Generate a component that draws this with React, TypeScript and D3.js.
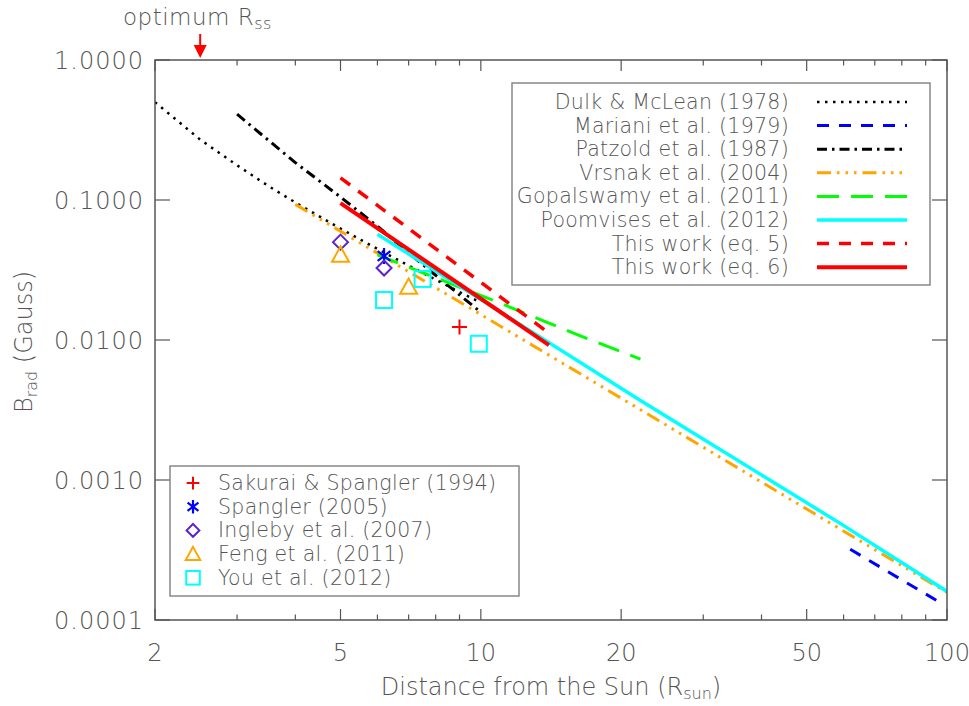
import * as d3 from 'd3';

// distances in R_sun, field in Gauss
const dulkR = [2, 2.5, 3, 3.5, 4, 5, 6, 7, 8, 9, 10];
const dulkB = [0.5, 0.27, 0.177, 0.126, 0.096, 0.0625, 0.0447, 0.034, 0.027, 0.022, 0.0185];
const marianiR = [62, 96];
const marianiB = [0.00032, 0.000135];
const patzoldR = [3, 4, 5, 6, 7, 8, 9, 10];
const patzoldB = [0.41, 0.185, 0.105, 0.065, 0.042, 0.029, 0.021, 0.0158];
const vrsnakR = [4, 10, 20, 50, 100];
const vrsnakB = [0.093, 0.0152, 0.00384, 0.00062, 0.000157];
const gopalR = [6, 10.6, 16, 22];
const gopalB = [0.0405, 0.0193, 0.011, 0.0073];
const poomR = [6, 22, 59, 100];
const poomB = [0.057, 0.0037, 0.00049, 0.00016];
const eq5R = [5, 14];
const eq5B = [0.144, 0.0112];
const eq6R = [5, 14];
const eq6B = [0.095, 0.0092];

const sakuraiPts = [[9, 0.0124]];
const spanglerPts = [[6.2, 0.0398]];
const inglebyPts = [[5, 0.05], [6.2, 0.0327]];
const fengPts = [[5, 0.0405], [7, 0.0239]];
const youPts = [[6.2, 0.0193], [7.5, 0.0273], [9.9, 0.0094]];

const xLabelTicks = [2, 5, 10, 20, 50, 100];
const xMinorTicks = [3, 4, 6, 7, 8, 9, 30, 40, 60, 70, 80, 90];
const yTicks = [0.0001, 0.001, 0.01, 0.1, 1];
const optimumRss = 2.5;

const FONT = '"DejaVu Sans", sans-serif';
const TXT = '#555';

const lineStyles = [
  { name: 'Dulk & McLean (1978)', r: dulkR, b: dulkB, color: '#000', w: 2.5, dash: '2.5,5.5' },
  { name: 'Mariani et al. (1979)', r: marianiR, b: marianiB, color: '#0000ff', w: 3, dash: '12,10' },
  { name: 'Patzold et al. (1987)', r: patzoldR, b: patzoldB, color: '#000', w: 3, dash: '10,5,2.5,5' },
  { name: 'Vrsnak et al. (2004)', r: vrsnakR, b: vrsnakB, color: '#ffa500', w: 3, dash: '14,6,2.5,6,2.5,6,2.5,6' },
  { name: 'Gopalswamy et al. (2011)', r: gopalR, b: gopalB, color: '#00ff00', w: 3, dash: '22,12' },
  { name: 'Poomvises et al. (2012)', r: poomR, b: poomB, color: '#00ffff', w: 3.5, dash: null },
  { name: 'This work (eq. 5)', r: eq5R, b: eq5B, color: '#ff0000', w: 3.5, dash: '12,10' },
  { name: 'This work (eq. 6)', r: eq6R, b: eq6B, color: '#ff0000', w: 4, dash: null },
];

const symbolSets = [
  { name: 'Sakurai & Spangler (1994)', pts: sakuraiPts, kind: 'plus', color: '#ff0000' },
  { name: 'Spangler (2005)', pts: spanglerPts, kind: 'star', color: '#0000ff' },
  { name: 'Ingleby et al. (2007)', pts: inglebyPts, kind: 'diamond', color: '#5a22d0' },
  { name: 'Feng et al. (2011)', pts: fengPts, kind: 'triangle', color: '#ffa500' },
  { name: 'You et al. (2012)', pts: youPts, kind: 'square', color: '#00ffff' },
];

function Symbol({ kind, x, y, color, s = 1 }: { kind: string; x: number; y: number; color: string; s?: number }) {
  const sw = 2;
  if (kind === 'plus') {
    const h = 7.5 * s;
    return <path d={`M${x - h},${y}H${x + h}M${x},${y - h}V${y + h}`} stroke={color} strokeWidth={sw} fill="none" />;
  }
  if (kind === 'star') {
    const h = 8 * s;
    const d = h * 0.8;
    const e = h * 0.6;
    return (
      <path
        d={`M${x},${y - h}V${y + h}M${x - d},${y - e}L${x + d},${y + e}M${x - d},${y + e}L${x + d},${y - e}`}
        stroke={color}
        strokeWidth={2.2}
        fill="none"
      />
    );
  }
  if (kind === 'diamond') {
    const h = 7.5 * s;
    return <path d={`M${x},${y - h}L${x + h},${y}L${x},${y + h}L${x - h},${y}Z`} stroke={color} strokeWidth={sw} fill="none" />;
  }
  if (kind === 'triangle') {
    const h = 8.5 * s;
    return <path d={`M${x},${y - h}L${x + h},${y + h * 0.8}L${x - h},${y + h * 0.8}Z`} stroke={color} strokeWidth={sw} fill="none" />;
  }
  const h = 8 * s;
  return <rect x={x - h} y={y - h} width={2 * h} height={2 * h} stroke={color} strokeWidth={sw} fill="none" />;
}

export default function App() {
  const left = 155;
  const right = 947;
  const top = 60;
  const bottom = 620;

  const x = d3.scaleLog().domain([2, 100]).range([left, right]);
  const y = d3.scaleLog().domain([0.0001, 1]).range([bottom, top]);

  const line = d3
    .line<[number, number]>()
    .x((d) => x(d[0]))
    .y((d) => y(d[1]));

  const xa = x(optimumRss);

  return (
    <svg
      width={969}
      height={706}
      style={{ position: 'absolute', left: 0, top: 0, background: '#fff' }}
      fontFamily={FONT}
      fontWeight={200}
    >
      <defs>
        <clipPath id="plot">
          <rect x={left} y={top} width={right - left} height={bottom - top} />
        </clipPath>
      </defs>

      {/* data lines */}
      <g clipPath="url(#plot)" fill="none">
        {lineStyles.map((l) => (
          <path
            key={l.name}
            d={line(l.r.map((r, i) => [r, l.b[i]] as [number, number])) || ''}
            stroke={l.color}
            strokeWidth={l.w}
            strokeDasharray={l.dash || undefined}
          />
        ))}
      </g>

      {/* measurements */}
      <g>
        {symbolSets.map((s) =>
          s.pts.map((p, i) => <Symbol key={s.name + i} kind={s.kind} x={x(p[0])} y={y(p[1])} color={s.color} />)
        )}
      </g>

      {/* frame */}
      <rect x={left} y={top} width={right - left} height={bottom - top} fill="none" stroke="#555" strokeWidth={1.5} />

      {/* ticks */}
      <g stroke="#555" strokeWidth={1.2}>
        {xLabelTicks.map((t) => (
          <g key={'xm' + t}>
            <line x1={x(t)} x2={x(t)} y1={bottom} y2={bottom - 11} />
            <line x1={x(t)} x2={x(t)} y1={top} y2={top + 11} />
          </g>
        ))}
        {xMinorTicks.map((t) => (
          <g key={'xn' + t}>
            <line x1={x(t)} x2={x(t)} y1={bottom} y2={bottom - 5.5} />
            <line x1={x(t)} x2={x(t)} y1={top} y2={top + 5.5} />
          </g>
        ))}
        {yTicks.map((t) => (
          <g key={'y' + t}>
            <line x1={left} x2={left + 15} y1={y(t)} y2={y(t)} />
            <line x1={right} x2={right - 15} y1={y(t)} y2={y(t)} />
          </g>
        ))}
      </g>

      <g fill={TXT} fontSize={24}>
        {xLabelTicks.map((t) => (
          <text key={'xl' + t} x={x(t)} y={661} textAnchor="middle">
            {t}
          </text>
        ))}
        {yTicks.map((t) => (
          <text key={'yl' + t} x={144} y={y(t) + 8.5} textAnchor="end" letterSpacing={1}>
            {t.toFixed(4)}
          </text>
        ))}
        <text x={(left + right) / 2} y={695} textAnchor="middle">
          Distance from the Sun (R<tspan fontSize={16} dy={4}>sun</tspan>
          <tspan dy={-4}>)</tspan>
        </text>
        <text transform="translate(32,342) rotate(-90)" textAnchor="middle">
          B<tspan fontSize={16} dy={5}>rad</tspan>
          <tspan dy={-5}> (Gauss)</tspan>
        </text>
        <text x={123} y={25} fontSize={23} letterSpacing={0.5}>
          optimum R<tspan fontSize={16} dy={4}>ss</tspan>
        </text>
      </g>

      {/* optimum Rss arrow */}
      <line x1={xa} x2={xa} y1={34} y2={47} stroke="#ff0000" strokeWidth={2} />
      <path d={`M${xa - 6.5},${45}L${xa + 6.5},${45}L${xa},${58}Z`} fill="#ff0000" />

      {/* legend of models */}
      <rect x={512} y={83} width={418} height={202} fill="#fff" stroke="#888" strokeWidth={1.5} />
      {lineStyles.map((l, i) => {
        const ly = 102 + i * 23.6;
        return (
          <g key={'lg' + l.name}>
            <text x={789} y={ly + 7} textAnchor="end" fontSize={20.5} fill={TXT} letterSpacing={0.3}>
              {l.name}
            </text>
            <line
              x1={817}
              x2={907}
              y1={ly}
              y2={ly}
              stroke={l.color}
              strokeWidth={l.w}
              strokeDasharray={l.dash || undefined}
            />
          </g>
        );
      })}

      {/* legend of measurements */}
      <rect x={170} y={466} width={349} height={130} fill="#fff" stroke="#888" strokeWidth={1.5} />
      {symbolSets.map((s, i) => {
        const ly = 483 + i * 23.7;
        return (
          <g key={'ls' + s.name}>
            <Symbol kind={s.kind} x={193} y={ly} color={s.color} s={0.85} />
            <text x={218} y={ly + 7} fontSize={20.5} fill={TXT} letterSpacing={0.3}>
              {s.name}
            </text>
          </g>
        );
      })}
    </svg>
  );
}
